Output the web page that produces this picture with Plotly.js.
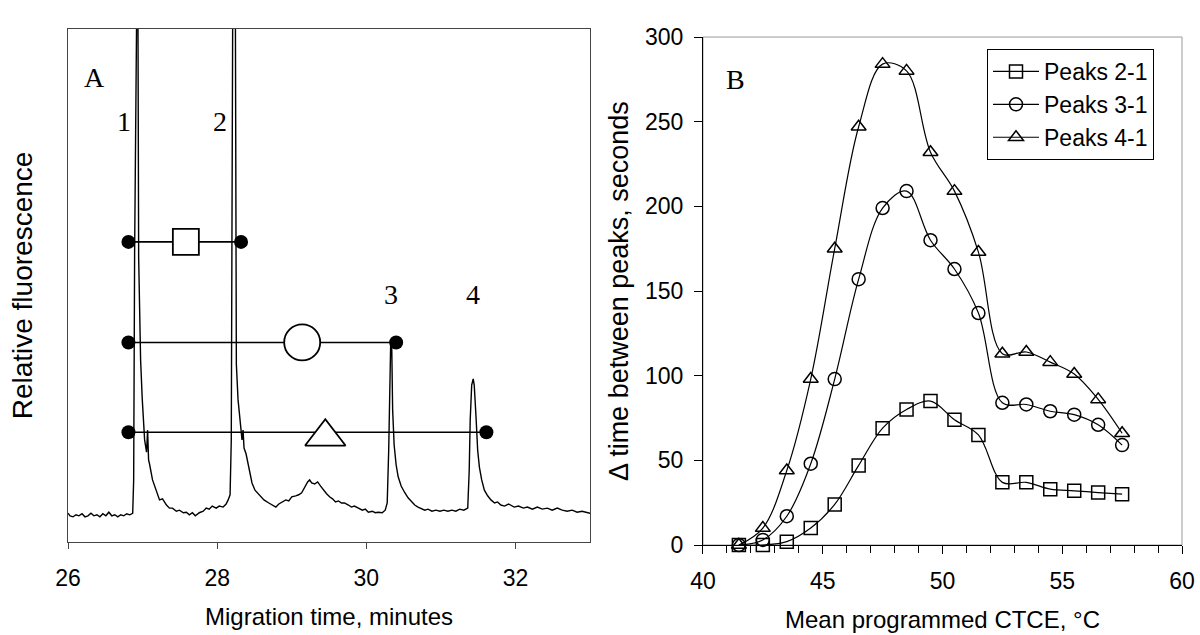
<!DOCTYPE html>
<html>
<head>
<meta charset="utf-8">
<script src="https://cdn.plot.ly/plotly-3.0.1.min.js"></script>
<style>html,body{margin:0;padding:0;background:#fff;}#chart{width:1200px;height:635px;}</style>
</head>
<body>
<div id="chart"></div>
<script>
// ---------- Panel A: electropherogram ----------
const migTime = [26.000,26.027,26.067,26.107,26.147,26.187,26.227,26.267,26.307,26.347,26.387,26.427,26.467,26.507,26.547,26.587,26.627,26.667,26.707,26.747,26.787,26.827,26.867,
26.880,26.893,26.907,26.933,26.947,26.973,26.995,27.027,27.053,27.067,27.080,27.093,27.133,27.187,27.227,27.267,27.320,27.360,27.400,27.453,27.493,27.547,27.587,27.627,27.667,27.707,27.760,27.813,27.853,27.893,27.933,27.987,28.027,28.080,28.120,28.147,28.173,
28.189,28.200,28.213,28.240,28.253,28.257,28.280,28.316,28.333,28.347,28.360,28.387,28.427,28.467,28.507,28.560,28.627,28.693,28.733,28.787,28.827,28.867,28.920,28.960,29.000,29.053,29.093,29.133,29.173,29.213,29.240,29.267,29.307,29.347,29.387,29.427,29.467,29.507,29.547,29.587,29.627,29.667,29.707,29.760,29.800,29.840,29.893,29.947,29.987,30.027,30.080,30.120,30.160,30.213,30.253,30.280,
30.300,30.313,30.327,30.340,30.353,30.373,30.400,30.427,30.467,30.516,30.560,30.600,30.649,30.693,30.733,30.783,30.827,30.880,30.933,30.987,31.040,31.093,31.147,31.200,31.253,31.307,31.360,
31.380,31.393,31.413,31.433,31.447,31.471,31.493,31.516,31.547,31.583,31.627,31.671,31.720,31.760,31.804,31.853,31.907,31.983,32.040,32.107,32.160,32.227,32.293,32.360,32.427,32.493,32.560,32.627,32.693,32.760,32.827,32.893,33.000];
const fluorescence = [5.6,5.1,4.9,5.3,5.1,5.5,4.9,5.1,5.6,5.1,5.3,4.9,5.5,5.1,5.8,5.1,5.3,4.9,5.3,5.1,5.5,5.3,5.6,
12.1,56.9,125,125,55.4,35.5,27.9,19.9,17.5,21.8,16.0,15.2,12.1,9.6,8.2,8.4,7.2,6.6,6.6,6.0,6.2,5.7,5.8,5.3,5.7,5.1,5.7,6.0,6.6,6.4,7.0,6.6,7.0,6.8,7.4,8.2,9.2,
19.9,66.7,125,125,47.2,34.7,27.7,21.2,19.9,21.8,18.3,17.2,14.6,11.5,10.1,9.2,8.2,7.6,7.2,6.8,7.4,7.8,8.2,8.0,8.8,9.0,9.2,9.6,10.7,11.7,12.1,11.5,11.3,11.7,10.9,10.1,9.4,8.8,8.4,7.8,8.0,7.6,7.6,7.2,6.8,7.0,6.6,6.2,6.4,5.8,6.0,5.7,5.8,5.7,6.2,7.6,
17.9,31.6,39.0,39.0,25.7,18.9,15.0,12.7,10.9,9.6,8.6,8.0,7.2,6.8,6.6,6.2,6.4,6.0,6.2,6.0,6.2,6.0,6.2,6.0,6.4,6.2,6.6,
14.0,23.8,30.6,31.8,30.6,24.4,17.9,14.6,12.1,10.1,9.0,8.2,7.6,7.8,7.2,7.0,7.4,6.8,7.0,6.6,6.8,6.4,6.8,6.4,6.6,6.2,6.6,6.2,6.0,6.2,5.8,6.0,5.6];

// peak-spacing markers drawn on panel A
const pairStart = [26.81, 26.81, 26.81];
const pairEnd = [28.32, 30.40, 31.61];
const pairLevel = [58.5, 38.9, 21.4];
const pairSymbolTime = [27.58, 29.14, 29.45];
const pairSymbolLevel = [58.5, 38.9, 20.5];
const pairSymbols = ['square-open', 'circle-open', 'triangle-up-open'];
const peakLabels = ['1', '2', '3', '4'];
const peakLabelTime = [26.744, 28.04, 30.33, 31.43];
const peakLabelLevel = [81.9, 81.9, 48.3, 48.3];

// ---------- Panel B ----------
const meanTemp = [41.5,42.5,43.5,44.5,45.5,46.5,47.5,48.5,49.5,50.5,51.5,52.5,53.5,54.5,55.5,56.5,57.5];
const peaks21 = [0,0,2,10,24,47,69,80,85,74,65,37,37,33,32,31,30];
const peaks31 = [0,3,17,48,98,157,199,209,180,163,137,84,83,79,77,71,59];
const peaks41 = [0,10,44,98,175,247,284,280,232,209,173,113,114,108,101,86,66];
const seriesNames = ['Peaks 2-1', 'Peaks 3-1', 'Peaks 4-1'];
const seriesSymbols = ['square-open', 'circle-open', 'triangle-up-open'];

const SANS = 'Liberation Sans, Arial, sans-serif';
const SERIF = 'Liberation Serif, Times New Roman, serif';

const traces = [];
traces.push({x: migTime, y: fluorescence, xaxis: 'x', yaxis: 'y', mode: 'lines',
  line: {color: '#000', width: 1.4}, showlegend: false, hoverinfo: 'skip'});

const pairSizes = [26, 36, 35];
for (let i = 0; i < pairStart.length; i++) {
  traces.push({x: [pairStart[i], pairEnd[i]], y: [pairLevel[i], pairLevel[i]], xaxis: 'x', yaxis: 'y',
    mode: 'lines+markers', line: {color: '#000', width: 1.6},
    marker: {symbol: 'circle', size: 14, color: '#000'}, showlegend: false, cliponaxis: false});
  const base = pairSymbols[i].replace('-open', '');
  traces.push({x: [pairSymbolTime[i]], y: [pairSymbolLevel[i]], xaxis: 'x', yaxis: 'y', mode: 'markers',
    marker: {symbol: base, size: pairSizes[i], color: '#fff', line: {width: 0}}, showlegend: false, cliponaxis: false});
  traces.push({x: [pairSymbolTime[i]], y: [pairSymbolLevel[i]], xaxis: 'x', yaxis: 'y', mode: 'markers',
    marker: {symbol: pairSymbols[i], size: pairSizes[i], color: '#000', line: {width: 1.8, color: '#000'}},
    showlegend: false, cliponaxis: false});
}

const seriesData = [peaks21, peaks31, peaks41];
for (let i = 0; i < 3; i++) {
  traces.push({x: meanTemp, y: seriesData[i], xaxis: 'x2', yaxis: 'y2', name: seriesNames[i],
    mode: 'lines+markers', line: {color: '#000', width: 1.2, shape: 'spline', smoothing: 1},
    marker: {symbol: seriesSymbols[i], size: 13, color: '#000', line: {width: 1.5, color: '#000'}},
    cliponaxis: false});
}

const annotations = [];
annotations.push({x: 26.353, y: 90.6, xref: 'x', yref: 'y', text: 'A', showarrow: false,
  font: {family: SERIF, size: 28, color: '#000'}});
for (let i = 0; i < peakLabels.length; i++) {
  annotations.push({x: peakLabelTime[i], y: peakLabelLevel[i], xref: 'x', yref: 'y', text: peakLabels[i],
    showarrow: false, font: {family: SERIF, size: 28, color: '#000'}});
}
annotations.push({x: 41.35, y: 275, xref: 'x2', yref: 'y2', text: 'B', showarrow: false,
  font: {family: SERIF, size: 28, color: '#000'}});

const layout = {
  width: 1200, height: 635,
  margin: {l: 0, r: 0, t: 0, b: 0},
  paper_bgcolor: '#fff', plot_bgcolor: '#fff',
  font: {family: SANS, color: '#000', size: 22},
  showlegend: true,
  legend: {x: 0.8225, y: 0.9228, xanchor: 'left', yanchor: 'top', bgcolor: '#fff',
    bordercolor: '#000', borderwidth: 1, font: {family: SANS, size: 23, color: '#000'},
    itemwidth: 46, tracegroupgap: 0},
  xaxis: {domain: [0.0567, 0.4917], range: [26, 33], tick0: 26, dtick: 2, ticks: 'outside', ticklen: 6,
    tickcolor: '#444', showline: true, mirror: true, linecolor: '#444', linewidth: 1, showgrid: false,
    zeroline: false, anchor: 'y', tickfont: {size: 23}, ticklabelstandoff: 9,
    title: {text: 'Migration time, minutes', font: {size: 24}, standoff: 18}},
  yaxis: {domain: [0.1465, 0.9543], range: [0, 100], showticklabels: false, ticks: '', showline: true,
    mirror: true, linecolor: '#444', linewidth: 1, showgrid: false, zeroline: false, anchor: 'x',
    title: {text: 'Relative fluorescence', font: {size: 28}, standoff: 26}},
  xaxis2: {domain: [0.5858, 0.985], range: [40, 60], tick0: 40, dtick: 5, ticks: 'outside', ticklen: 8,
    tickcolor: '#000', minor: {dtick: 1, ticks: 'outside', ticklen: 7, tickcolor: '#000'},
    showline: true, linecolor: '#000', linewidth: 1, showgrid: false, zeroline: false, anchor: 'y2',
    tickfont: {size: 23}, ticklabelstandoff: 7,
    title: {text: 'Mean programmed CTCE, °C', font: {size: 24}, standoff: 18}},
  yaxis2: {domain: [0.1417, 0.9417], range: [0, 300], dtick: 50, ticks: 'outside', ticklen: 8,
    tickcolor: '#000', showline: true, linecolor: '#000', linewidth: 1, showgrid: false, zeroline: false,
    anchor: 'x2', tickfont: {size: 23}, ticklabelstandoff: 6,
    title: {text: 'Δ time between peaks, seconds', font: {size: 27}, standoff: 8}},
  shapes: [{type: 'rect', xref: 'x2 domain', yref: 'y2 domain', x0: 0, x1: 1, y0: 0, y1: 1,
    line: {color: '#999', width: 1}, layer: 'below'}],
  annotations: annotations
};

Plotly.newPlot('chart', traces, layout, {displayModeBar: false, staticPlot: true});
</script>
</body>
</html>
